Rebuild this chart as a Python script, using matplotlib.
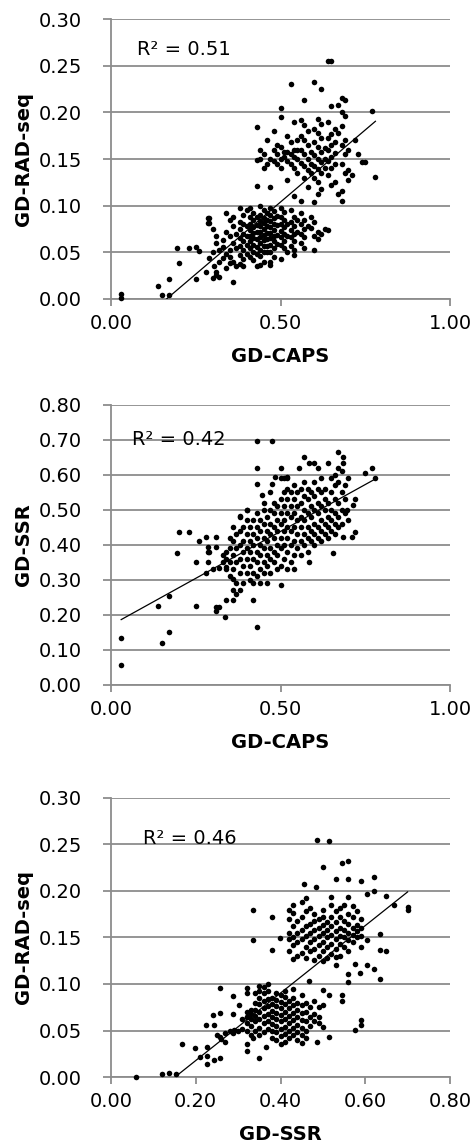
import matplotlib.pyplot as plt
import numpy as np

plt.rcParams['font.family'] = 'DejaVu Sans'

# GD-CAPS (x) vs GD-RAD-seq (y)
caps_rad = [
    (0.03, 0.005), (0.03, 0.001), (0.14, 0.014), (0.15, 0.004), (0.17, 0.021), (0.17, 0.004),
    (0.20, 0.039), (0.195, 0.055), (0.23, 0.055), (0.25, 0.056), (0.25, 0.021), (0.26, 0.051),
    (0.28, 0.029), (0.285, 0.087), (0.285, 0.081), (0.29, 0.044), (0.30, 0.023), (0.31, 0.026),
    (0.305, 0.035), (0.36, 0.018), (0.35, 0.039),
    # lower group
    (0.29, 0.087), (0.29, 0.081), (0.30, 0.075), (0.31, 0.060), (0.32, 0.052), (0.30, 0.050),
    (0.33, 0.044), (0.32, 0.040), (0.31, 0.029), (0.32, 0.024), (0.33, 0.056), (0.31, 0.068),
    (0.34, 0.092), (0.35, 0.085), (0.36, 0.078), (0.34, 0.072), (0.35, 0.067), (0.36, 0.060),
    (0.37, 0.055), (0.34, 0.048), (0.35, 0.045), (0.36, 0.040), (0.37, 0.035), (0.34, 0.033),
    (0.36, 0.088), (0.37, 0.070), (0.35, 0.052), (0.33, 0.063),
    (0.38, 0.098), (0.39, 0.090), (0.38, 0.083), (0.39, 0.080), (0.38, 0.075), (0.39, 0.070),
    (0.38, 0.065), (0.39, 0.062), (0.38, 0.057), (0.39, 0.053), (0.38, 0.047), (0.39, 0.043),
    (0.38, 0.038), (0.39, 0.035), (0.40, 0.095), (0.40, 0.078), (0.40, 0.068), (0.40, 0.058),
    (0.40, 0.048),
    (0.41, 0.097), (0.42, 0.092), (0.41, 0.088), (0.42, 0.085), (0.41, 0.080), (0.42, 0.077),
    (0.41, 0.074), (0.42, 0.071), (0.41, 0.068), (0.42, 0.065), (0.41, 0.062), (0.42, 0.058),
    (0.41, 0.055), (0.42, 0.050), (0.41, 0.045), (0.42, 0.042), (0.43, 0.035), (0.43, 0.088),
    (0.43, 0.079), (0.43, 0.072), (0.43, 0.064), (0.43, 0.056), (0.43, 0.048), (0.44, 0.036),
    (0.44, 0.100), (0.45, 0.095), (0.44, 0.090), (0.45, 0.087), (0.44, 0.084), (0.45, 0.081),
    (0.44, 0.078), (0.45, 0.075), (0.44, 0.072), (0.45, 0.069), (0.44, 0.066), (0.45, 0.063),
    (0.44, 0.060), (0.45, 0.057), (0.44, 0.053), (0.45, 0.050), (0.44, 0.046), (0.45, 0.040),
    (0.46, 0.092), (0.46, 0.085), (0.46, 0.078), (0.46, 0.071), (0.46, 0.064), (0.46, 0.057),
    (0.46, 0.050),
    (0.47, 0.097), (0.48, 0.094), (0.47, 0.090), (0.48, 0.087), (0.47, 0.084), (0.48, 0.080),
    (0.47, 0.077), (0.48, 0.074), (0.47, 0.071), (0.48, 0.068), (0.47, 0.065), (0.48, 0.062),
    (0.47, 0.058), (0.48, 0.055), (0.47, 0.050), (0.48, 0.045), (0.47, 0.040), (0.47, 0.036),
    (0.49, 0.089), (0.49, 0.079), (0.49, 0.069), (0.49, 0.059),
    (0.50, 0.098), (0.51, 0.093), (0.50, 0.088), (0.51, 0.085), (0.50, 0.080), (0.51, 0.077),
    (0.50, 0.073), (0.51, 0.070), (0.50, 0.066), (0.51, 0.062), (0.50, 0.058), (0.51, 0.055),
    (0.52, 0.050), (0.50, 0.043), (0.52, 0.080), (0.52, 0.068),
    (0.53, 0.095), (0.54, 0.088), (0.53, 0.082), (0.54, 0.078), (0.53, 0.074), (0.54, 0.070),
    (0.53, 0.066), (0.54, 0.062), (0.53, 0.057), (0.54, 0.052), (0.54, 0.047), (0.55, 0.085),
    (0.55, 0.072),
    (0.56, 0.092), (0.57, 0.085), (0.56, 0.080), (0.57, 0.075), (0.56, 0.070), (0.57, 0.066),
    (0.56, 0.060), (0.57, 0.055), (0.58, 0.078),
    (0.59, 0.088), (0.60, 0.082), (0.59, 0.076), (0.61, 0.072), (0.60, 0.068), (0.61, 0.064),
    (0.60, 0.053), (0.63, 0.075), (0.64, 0.074), (0.62, 0.070),
    # upper group
    (0.43, 0.184), (0.44, 0.160), (0.45, 0.155), (0.43, 0.149), (0.46, 0.145), (0.45, 0.140),
    (0.44, 0.150), (0.43, 0.121), (0.47, 0.120), (0.46, 0.170), (0.47, 0.150),
    (0.48, 0.180), (0.49, 0.165), (0.50, 0.163), (0.48, 0.160), (0.49, 0.155), (0.50, 0.150),
    (0.48, 0.148), (0.49, 0.145), (0.50, 0.140), (0.52, 0.128), (0.50, 0.205), (0.50, 0.195),
    (0.51, 0.152), (0.51, 0.158),
    (0.53, 0.230), (0.54, 0.190), (0.52, 0.175), (0.53, 0.168), (0.54, 0.160), (0.52, 0.158),
    (0.53, 0.155), (0.54, 0.152), (0.52, 0.148), (0.53, 0.145), (0.54, 0.140), (0.55, 0.135),
    (0.54, 0.110), (0.55, 0.150), (0.55, 0.160), (0.55, 0.170),
    (0.57, 0.213), (0.56, 0.192), (0.57, 0.186), (0.58, 0.180), (0.56, 0.175), (0.57, 0.170),
    (0.58, 0.165), (0.56, 0.160), (0.57, 0.155), (0.58, 0.150), (0.56, 0.146), (0.57, 0.142),
    (0.58, 0.138), (0.57, 0.130), (0.58, 0.120), (0.56, 0.105), (0.59, 0.158), (0.59, 0.145),
    (0.59, 0.135),
    (0.60, 0.233), (0.62, 0.225), (0.61, 0.193), (0.62, 0.187), (0.60, 0.182), (0.61, 0.178),
    (0.62, 0.172), (0.60, 0.168), (0.61, 0.163), (0.62, 0.158), (0.60, 0.154), (0.61, 0.150),
    (0.62, 0.147), (0.60, 0.143), (0.61, 0.139), (0.62, 0.135), (0.60, 0.130), (0.61, 0.125),
    (0.62, 0.118), (0.61, 0.112), (0.60, 0.104), (0.63, 0.162), (0.63, 0.150), (0.63, 0.140),
    (0.64, 0.255), (0.65, 0.255), (0.65, 0.207), (0.64, 0.190), (0.66, 0.182), (0.65, 0.177),
    (0.64, 0.172), (0.66, 0.168), (0.65, 0.165), (0.64, 0.160), (0.66, 0.156), (0.65, 0.152),
    (0.64, 0.148), (0.66, 0.145), (0.65, 0.140), (0.64, 0.133), (0.66, 0.125), (0.65, 0.122),
    (0.68, 0.215), (0.69, 0.213), (0.67, 0.208), (0.68, 0.200), (0.69, 0.196), (0.68, 0.185),
    (0.67, 0.178), (0.69, 0.170), (0.68, 0.165), (0.70, 0.160), (0.69, 0.155), (0.68, 0.145),
    (0.70, 0.138), (0.69, 0.135), (0.70, 0.128), (0.68, 0.116), (0.67, 0.113), (0.68, 0.105),
    (0.72, 0.170), (0.73, 0.155), (0.74, 0.147), (0.71, 0.133),
    (0.77, 0.201), (0.75, 0.147), (0.78, 0.131),
]

# GD-CAPS (x) vs GD-SSR (y)
caps_ssr = [
    (0.03, 0.057), (0.03, 0.133), (0.14, 0.226), (0.15, 0.119), (0.17, 0.150), (0.17, 0.255),
    (0.195, 0.378), (0.20, 0.438), (0.23, 0.438), (0.25, 0.350), (0.25, 0.226), (0.26, 0.410),
    (0.28, 0.424), (0.285, 0.395), (0.285, 0.381), (0.285, 0.350), (0.28, 0.320), (0.31, 0.424),
    (0.31, 0.395), (0.31, 0.224), (0.31, 0.210), (0.32, 0.224), (0.335, 0.195), (0.32, 0.333),
    (0.34, 0.338), (0.34, 0.243), (0.36, 0.243), (0.36, 0.302), (0.43, 0.165), (0.43, 0.697),
    (0.475, 0.697), (0.43, 0.619), (0.43, 0.574), (0.42, 0.243), (0.40, 0.500), (0.38, 0.484),
    (0.445, 0.543), (0.475, 0.574), (0.50, 0.619), (0.485, 0.593), (0.52, 0.593), (0.555, 0.619),
    (0.57, 0.650), (0.585, 0.635), (0.60, 0.635), (0.61, 0.619), (0.64, 0.635), (0.67, 0.667),
    (0.685, 0.650), (0.685, 0.635), (0.75, 0.607), (0.77, 0.619), (0.78, 0.590), (0.72, 0.530),
    (0.715, 0.514), (0.695, 0.500), (0.72, 0.438), (0.71, 0.424), (0.685, 0.424), (0.655, 0.378),
    (0.585, 0.350), (0.50, 0.286), (0.29, 0.380), (0.30, 0.330),
    # main cloud
    (0.33, 0.35), (0.33, 0.37), (0.34, 0.36), (0.34, 0.38), (0.34, 0.33),
    (0.35, 0.31), (0.35, 0.35), (0.35, 0.39), (0.35, 0.42),
    (0.36, 0.27), (0.36, 0.33), (0.36, 0.37), (0.36, 0.41), (0.36, 0.45),
    (0.37, 0.26), (0.37, 0.29), (0.37, 0.35), (0.37, 0.39), (0.37, 0.43),
    (0.38, 0.27), (0.38, 0.32), (0.38, 0.36), (0.38, 0.40), (0.38, 0.44), (0.38, 0.48),
    (0.39, 0.29), (0.39, 0.34), (0.39, 0.38), (0.39, 0.41), (0.39, 0.45),
    (0.40, 0.32), (0.40, 0.36), (0.40, 0.39), (0.40, 0.43), (0.40, 0.47), (0.40, 0.50),
    (0.41, 0.30), (0.41, 0.34), (0.41, 0.38), (0.41, 0.41), (0.41, 0.45),
    (0.42, 0.29), (0.42, 0.32), (0.42, 0.36), (0.42, 0.40), (0.42, 0.43), (0.42, 0.47),
    (0.43, 0.31), (0.43, 0.35), (0.43, 0.38), (0.43, 0.42), (0.43, 0.45), (0.43, 0.49),
    (0.44, 0.29), (0.44, 0.33), (0.44, 0.37), (0.44, 0.40), (0.44, 0.44), (0.44, 0.47),
    (0.45, 0.32), (0.45, 0.35), (0.45, 0.39), (0.45, 0.42), (0.45, 0.46), (0.45, 0.50), (0.45, 0.52),
    (0.46, 0.29), (0.46, 0.34), (0.46, 0.37), (0.46, 0.41), (0.46, 0.44), (0.46, 0.48),
    (0.47, 0.32), (0.47, 0.36), (0.47, 0.39), (0.47, 0.43), (0.47, 0.46), (0.47, 0.50), (0.47, 0.55),
    (0.48, 0.35), (0.48, 0.38), (0.48, 0.42), (0.48, 0.45), (0.48, 0.49), (0.48, 0.52),
    (0.49, 0.33), (0.49, 0.37), (0.49, 0.40), (0.49, 0.44), (0.49, 0.47), (0.49, 0.51),
    (0.50, 0.34), (0.50, 0.39), (0.50, 0.42), (0.50, 0.46), (0.50, 0.49), (0.50, 0.53), (0.50, 0.59),
    (0.51, 0.36), (0.51, 0.40), (0.51, 0.44), (0.51, 0.47), (0.51, 0.51), (0.51, 0.55), (0.51, 0.59),
    (0.52, 0.33), (0.52, 0.38), (0.52, 0.42), (0.52, 0.45), (0.52, 0.49), (0.52, 0.53), (0.52, 0.56),
    (0.52, 0.59),
    (0.53, 0.35), (0.53, 0.40), (0.53, 0.44), (0.53, 0.48), (0.53, 0.51), (0.53, 0.55),
    (0.54, 0.33), (0.54, 0.37), (0.54, 0.41), (0.54, 0.45), (0.54, 0.49), (0.54, 0.53), (0.54, 0.57),
    (0.55, 0.39), (0.55, 0.43), (0.55, 0.47), (0.55, 0.51), (0.55, 0.55),
    (0.56, 0.37), (0.56, 0.41), (0.56, 0.45), (0.56, 0.48), (0.56, 0.52), (0.56, 0.56),
    (0.57, 0.40), (0.57, 0.43), (0.57, 0.47), (0.57, 0.50), (0.57, 0.54), (0.57, 0.58),
    (0.58, 0.38), (0.58, 0.42), (0.58, 0.45), (0.58, 0.49), (0.58, 0.53), (0.58, 0.56),
    (0.59, 0.41), (0.59, 0.44), (0.59, 0.48), (0.59, 0.51), (0.59, 0.55),
    (0.60, 0.40), (0.60, 0.43), (0.60, 0.46), (0.60, 0.50), (0.60, 0.54), (0.60, 0.58),
    (0.61, 0.42), (0.61, 0.45), (0.61, 0.49), (0.61, 0.52), (0.61, 0.56),
    (0.62, 0.41), (0.62, 0.44), (0.62, 0.47), (0.62, 0.51), (0.62, 0.55), (0.62, 0.59),
    (0.63, 0.43), (0.63, 0.46), (0.63, 0.50), (0.63, 0.53), (0.63, 0.56),
    (0.64, 0.42), (0.64, 0.45), (0.64, 0.48), (0.64, 0.52),
    (0.65, 0.44), (0.65, 0.47), (0.65, 0.50), (0.65, 0.55), (0.65, 0.59),
    (0.66, 0.43), (0.66, 0.46), (0.66, 0.49), (0.66, 0.53), (0.66, 0.57), (0.66, 0.60),
    (0.67, 0.45), (0.67, 0.48), (0.67, 0.52), (0.67, 0.58), (0.67, 0.62),
    (0.68, 0.46), (0.68, 0.50), (0.68, 0.55), (0.68, 0.61),
    (0.69, 0.49), (0.69, 0.53), (0.69, 0.57), (0.70, 0.47), (0.70, 0.59),
]

# GD-SSR (x) vs GD-RAD-seq (y)
ssr_rad = [
    (0.06, 0.000), (0.12, 0.003), (0.138, 0.004), (0.153, 0.003), (0.167, 0.035), (0.198, 0.031),
    (0.21, 0.022), (0.227, 0.023), (0.227, 0.014), (0.227, 0.032), (0.224, 0.056), (0.244, 0.056),
    (0.24, 0.067), (0.257, 0.069), (0.257, 0.096), (0.244, 0.018), (0.257, 0.020), (0.257, 0.043),
    (0.27, 0.038), (0.289, 0.047), (0.289, 0.087), (0.289, 0.068), (0.303, 0.077), (0.32, 0.096),
    (0.32, 0.090), (0.32, 0.036), (0.32, 0.028), (0.334, 0.042), (0.349, 0.020), (0.365, 0.032),
    (0.334, 0.180), (0.334, 0.147), (0.379, 0.137), (0.379, 0.172), (0.399, 0.149), (0.455, 0.207),
    (0.484, 0.204), (0.485, 0.255), (0.515, 0.254), (0.50, 0.226), (0.545, 0.230), (0.56, 0.232),
    (0.56, 0.213), (0.56, 0.194), (0.531, 0.213), (0.59, 0.211), (0.603, 0.197), (0.62, 0.215),
    (0.62, 0.200), (0.65, 0.195), (0.667, 0.185), (0.70, 0.183), (0.70, 0.180), (0.635, 0.154),
    (0.635, 0.137), (0.65, 0.136), (0.635, 0.105), (0.603, 0.147), (0.603, 0.120), (0.62, 0.116),
    (0.587, 0.112), (0.576, 0.121), (0.56, 0.111), (0.56, 0.102), (0.545, 0.088), (0.545, 0.082),
    (0.576, 0.051), (0.59, 0.056), (0.59, 0.061), (0.515, 0.088), (0.515, 0.043), (0.50, 0.077),
    (0.50, 0.054), (0.485, 0.038), (0.50, 0.094), (0.468, 0.103), (0.531, 0.129), (0.56, 0.136),
    (0.25, 0.045), (0.27, 0.047), (0.28, 0.050), (0.29, 0.051), (0.30, 0.050), (0.31, 0.052),
    (0.26, 0.041), (0.31, 0.062), (0.32, 0.065),
    # upper group
    (0.42, 0.135), (0.42, 0.148), (0.42, 0.155), (0.42, 0.170), (0.42, 0.180),
    (0.43, 0.127), (0.43, 0.142), (0.43, 0.150), (0.43, 0.162), (0.43, 0.176), (0.43, 0.185),
    (0.44, 0.130), (0.44, 0.145), (0.44, 0.155), (0.44, 0.168),
    (0.45, 0.133), (0.45, 0.148), (0.45, 0.158), (0.45, 0.172), (0.45, 0.188),
    (0.46, 0.128), (0.46, 0.140), (0.46, 0.152), (0.46, 0.162), (0.46, 0.178), (0.46, 0.192),
    (0.47, 0.135), (0.47, 0.145), (0.47, 0.155), (0.47, 0.165), (0.47, 0.182),
    (0.48, 0.126), (0.48, 0.138), (0.48, 0.148), (0.48, 0.158), (0.48, 0.168), (0.48, 0.175),
    (0.49, 0.130), (0.49, 0.142), (0.49, 0.152), (0.49, 0.160), (0.49, 0.170),
    (0.50, 0.125), (0.50, 0.135), (0.50, 0.145), (0.50, 0.155), (0.50, 0.163), (0.50, 0.172),
    (0.50, 0.180),
    (0.51, 0.128), (0.51, 0.140), (0.51, 0.150), (0.51, 0.158), (0.51, 0.167),
    (0.52, 0.132), (0.52, 0.143), (0.52, 0.153), (0.52, 0.162), (0.52, 0.172), (0.52, 0.185),
    (0.52, 0.193),
    (0.53, 0.120), (0.53, 0.138), (0.53, 0.148), (0.53, 0.157), (0.53, 0.167), (0.53, 0.178),
    (0.54, 0.130), (0.54, 0.143), (0.54, 0.152), (0.54, 0.160), (0.54, 0.172), (0.54, 0.182),
    (0.55, 0.140), (0.55, 0.150), (0.55, 0.158), (0.55, 0.168), (0.55, 0.185),
    (0.56, 0.147), (0.56, 0.155), (0.56, 0.165), (0.56, 0.175),
    (0.57, 0.145), (0.57, 0.153), (0.57, 0.160), (0.57, 0.172), (0.57, 0.184),
    (0.58, 0.150), (0.58, 0.157), (0.58, 0.163), (0.58, 0.178),
    (0.59, 0.140), (0.59, 0.152), (0.59, 0.160), (0.59, 0.170),
    # lower group
    (0.32, 0.050), (0.32, 0.058), (0.32, 0.064), (0.32, 0.070),
    (0.33, 0.045), (0.33, 0.055), (0.33, 0.062), (0.33, 0.068), (0.33, 0.072),
    (0.34, 0.050), (0.34, 0.060), (0.34, 0.066), (0.34, 0.072), (0.34, 0.080), (0.34, 0.090),
    (0.35, 0.045), (0.35, 0.053), (0.35, 0.062), (0.35, 0.070), (0.35, 0.078), (0.35, 0.085),
    (0.35, 0.093), (0.35, 0.098),
    (0.36, 0.048), (0.36, 0.058), (0.36, 0.066), (0.36, 0.074), (0.36, 0.082), (0.36, 0.090),
    (0.36, 0.097),
    (0.37, 0.052), (0.37, 0.060), (0.37, 0.068), (0.37, 0.076), (0.37, 0.084), (0.37, 0.092),
    (0.37, 0.100),
    (0.38, 0.042), (0.38, 0.050), (0.38, 0.057), (0.38, 0.064), (0.38, 0.071), (0.38, 0.078),
    (0.38, 0.085),
    (0.39, 0.040), (0.39, 0.048), (0.39, 0.055), (0.39, 0.062), (0.39, 0.069), (0.39, 0.076),
    (0.39, 0.083), (0.39, 0.090),
    (0.40, 0.036), (0.40, 0.044), (0.40, 0.052), (0.40, 0.060), (0.40, 0.067), (0.40, 0.074),
    (0.40, 0.081), (0.40, 0.088),
    (0.41, 0.038), (0.41, 0.046), (0.41, 0.054), (0.41, 0.062), (0.41, 0.070), (0.41, 0.078),
    (0.41, 0.086), (0.41, 0.093),
    (0.42, 0.042), (0.42, 0.050), (0.42, 0.058), (0.42, 0.066), (0.42, 0.074), (0.42, 0.082),
    (0.43, 0.045), (0.43, 0.053), (0.43, 0.061), (0.43, 0.069), (0.43, 0.077), (0.43, 0.085),
    (0.43, 0.095),
    (0.44, 0.040), (0.44, 0.048), (0.44, 0.056), (0.44, 0.064), (0.44, 0.072), (0.44, 0.080),
    (0.45, 0.037), (0.45, 0.045), (0.45, 0.053), (0.45, 0.061), (0.45, 0.069), (0.45, 0.077),
    (0.45, 0.088),
    (0.46, 0.042), (0.46, 0.050), (0.46, 0.060), (0.46, 0.070), (0.46, 0.080),
    (0.47, 0.055), (0.47, 0.065), (0.47, 0.075),
    (0.48, 0.060), (0.48, 0.068), (0.48, 0.082),
    (0.49, 0.058), (0.49, 0.065), (0.49, 0.075),
]

pairs = [caps_rad, caps_ssr, ssr_rad]
x_labels = ['GD-CAPS', 'GD-CAPS', 'GD-SSR']
y_labels = ['GD-RAD-seq', 'GD-SSR', 'GD-RAD-seq']
r2_text = ['R² = 0.51', 'R² = 0.42', 'R² = 0.46']
# linear trend lines (slope, intercept) as drawn in the original
trend_slope = [0.309, 0.536, 0.3626]
trend_icpt = [-0.0506, 0.1707, -0.0548]
x_max = [1.0, 1.0, 0.8]
y_max = [0.30, 0.80, 0.30]
x_step = [0.5, 0.5, 0.2]
y_step = [0.05, 0.10, 0.05]
r2_pos = [(0.077, 0.89), (0.062, 0.875), (0.094, 0.853)]

grid_col = '#8c8c8c'

fig = plt.figure(figsize=(4.71, 11.46), dpi=100)
boxes = [[0.2357, 0.7391, 0.7197, 0.2443],
         [0.2357, 0.4023, 0.7197, 0.2443],
         [0.2357, 0.0602, 0.7197, 0.2435]]

for i in range(3):
    ax = fig.add_axes(boxes[i])
    xs = np.array([p[0] for p in pairs[i]])
    ys = np.array([p[1] for p in pairs[i]])

    ax.scatter(xs, ys, s=16, color='black', linewidths=0, zorder=3, clip_on=False)
    lx = np.array([xs.min(), xs.max()])
    ax.plot(lx, trend_slope[i] * lx + trend_icpt[i], color='black', lw=0.9, zorder=4)

    ax.set_xlim(0, x_max[i])
    ax.set_ylim(0, y_max[i])
    ax.set_xticks(np.arange(0, x_max[i] + 1e-9, x_step[i]))
    ax.set_yticks(np.arange(0, y_max[i] + 1e-9, y_step[i]))
    ax.xaxis.set_major_formatter(plt.FormatStrFormatter('%.2f'))
    ax.yaxis.set_major_formatter(plt.FormatStrFormatter('%.2f'))

    ax.yaxis.grid(True, color=grid_col, lw=1.3)
    ax.set_axisbelow(True)
    for side in ['top', 'right']:
        ax.spines[side].set_visible(False)
    for side in ['left', 'bottom']:
        ax.spines[side].set_color(grid_col)
        ax.spines[side].set_linewidth(1.3)
    ax.tick_params(axis='y', direction='out', length=6, width=1.3, color=grid_col,
                   pad=15, labelsize=14)
    ax.tick_params(axis='x', direction='out', length=5, width=1.3, color=grid_col,
                   pad=6, labelsize=14)

    ax.set_xlabel(x_labels[i], fontsize=14, fontweight='bold', labelpad=10)
    ax.set_ylabel(y_labels[i], fontsize=14, fontweight='bold', labelpad=4)
    ax.text(r2_pos[i][0], r2_pos[i][1], r2_text[i], transform=ax.transAxes,
            fontsize=14, va='center', ha='left')

fig.savefig('out.png', dpi=100, facecolor='white')
